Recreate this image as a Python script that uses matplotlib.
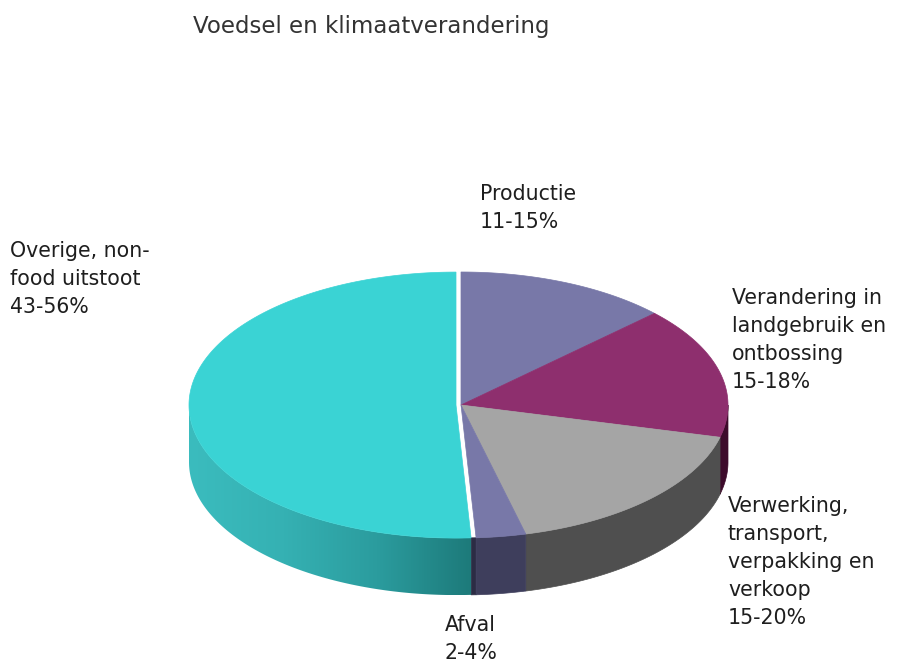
import numpy as np
import matplotlib
matplotlib.use('Agg')
from matplotlib import pyplot as plt
from matplotlib.patches import Polygon
from matplotlib.colors import LinearSegmentedColormap

################################################################################
### Data
################################################################################

title = 'Voedsel en klimaatverandering'
labels = ['Productie\n11-15%',
          'Verandering in\nlandgebruik en\nontbossing\n15-18%',
          'Verwerking,\ntransport,\nverpakking en\nverkoop\n15-20%',
          'Afval\n2-4%',
          'Overige, non-\nfood uitstoot\n43-56%']
# slice shares (percent of the full circle)
values = [12.9, 16.0, 17.2, 3.0, 50.9]

top_colors = ['#7878a8', '#8e2f6e', '#a5a5a5', '#7878a8', '#3ad3d4']
side_colors = ['#3e3e5c', '#3d0b2b', '#4f4f4f', '#3e3e5c', '#2aa0a2']
explode = [0, 0, 0, 0, 5]
# left x and last-line baseline y of each label
label_pos = [(480, 228), (732, 388), (728, 624), (445, 659), (10, 313)]

################################################################################
### Geometry of the fake 3D pie (pixel units)
################################################################################

CX, CY = 461, 405
RX, RY = 267, 133
DEPTH = 57


def ell(theta, dx=0, dy=0, drop=0):
    t = np.radians(theta)
    return np.column_stack([CX + dx + RX * np.cos(t),
                            CY + dy - RY * np.sin(t) + drop])


def offset(i):
    mid = np.radians((ends[i] + starts[i]) / 2)
    return (explode[i] * np.cos(mid),
            -explode[i] * RY / RX * np.sin(mid))


fig = plt.figure(figsize=(9.02, 6.63), dpi=100)
ax = fig.add_axes([0, 0, 1, 1])
ax.set_xlim(0, 902)
ax.set_ylim(663, 0)
ax.axis('off')

fracs = np.array(values) / np.sum(values)
starts = 90 - 360 * np.concatenate([[0], np.cumsum(fracs)[:-1]])
ends = starts - 360 * fracs

wall_cmap = LinearSegmentedColormap.from_list(
    'teal', ['#3bbcbe', '#35b1b3', '#2b9c9e', '#1d7a7a'])

# dark strip in the gap between the exploded slice and "Afval"
ang = np.array([ends[3]])
dxa, dya = offset(3)
dxc, dyc = offset(4)
ea = ell(ang, dxa, dya)[0]
ec_ = ell(ang, dxc, dyc)[0]
strip = [ea, (ea[0], ea[1] + DEPTH), (ec_[0], ec_[1] + DEPTH), ec_]
ax.add_patch(Polygon(strip, closed=True, fc='#2c2c44', ec='#2c2c44',
                     lw=0.5, zorder=1))

for i in range(len(values)):
    a, b = ends[i], starts[i]
    dx, dy = offset(i)

    # outer wall, only the part facing the viewer
    segs = []
    for off in (0, -360):
        l2, h2 = max(a, -180 + off), min(b, 0 + off)
        if l2 < h2:
            segs.append((l2, h2))
    for l2, h2 in segs:
        th = np.linspace(l2, h2, 200)
        top = ell(th, dx, dy)
        bot = ell(th[::-1], dx, dy, DEPTH)
        wall = np.vstack([top, bot])
        if i == 4:
            poly = Polygon(wall, closed=True, fc='none', ec='none', zorder=2)
            ax.add_patch(poly)
            grad = np.linspace(0, 1, 256).reshape(1, -1)
            im = ax.imshow(grad, cmap=wall_cmap, aspect='auto',
                           extent=(wall[:, 0].min(), wall[:, 0].max(),
                                   wall[:, 1].max(), wall[:, 1].min()),
                           zorder=2, interpolation='bilinear')
            im.set_clip_path(poly)
        else:
            ax.add_patch(Polygon(wall, closed=True, fc=side_colors[i],
                                 ec=side_colors[i], lw=0.5, zorder=2))

    # top face
    th = np.linspace(a, b, 300)
    pts = np.vstack([[CX + dx, CY + dy], ell(th, dx, dy)])
    ax.add_patch(Polygon(pts, closed=True, fc=top_colors[i],
                         ec=top_colors[i], lw=0.5, zorder=3))

ax.set_xlim(0, 902)
ax.set_ylim(663, 0)

for lab, (x, y) in zip(labels, label_pos):
    ax.text(x, y, lab, fontsize=14.8, family='DejaVu Sans', color='#1e1e1e',
            ha='left', va='baseline', linespacing=1.5, zorder=5)

ax.text(193, 33, title, fontsize=16.5, family='DejaVu Sans', color='#333333',
        ha='left', va='baseline')

fig.savefig('out.png', dpi=100, facecolor='white')
